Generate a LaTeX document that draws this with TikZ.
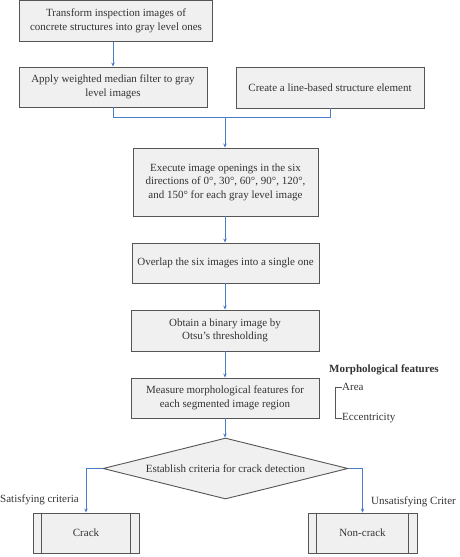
\documentclass[tikz,border=0pt]{standalone}
\usepackage{fontspec}
\setmainfont{Liberation Serif}
\usetikzlibrary{arrows.meta,shapes.geometric,calc}
\definecolor{boxfill}{HTML}{F0F0F0}
\definecolor{boxdraw}{HTML}{555555}
\definecolor{lineblue}{HTML}{4A7CC9}
\definecolor{txt}{HTML}{333333}
\tikzset{
  procbox/.style={draw=boxdraw, fill=boxfill, line width=0.9pt, rectangle, inner sep=0pt,
    align=center, text=txt, font=\fontsize{11}{13.5}\selectfont},
  decbox/.style={draw=boxdraw, fill=boxfill, line width=0.9pt, diamond, inner sep=0pt, aspect=4,
    align=center, text=txt, font=\fontsize{11}{13.5}\selectfont},
  flow/.style={draw=lineblue, line width=0.7pt, -{Stealth[length=4pt,width=3.5pt]}},
  link/.style={draw=lineblue, line width=0.7pt},
  lbl/.style={text=txt, font=\fontsize{11}{13.5}\selectfont, inner sep=0pt},
}
\begin{document}
\begin{tikzpicture}[x=1pt,y=-1pt]
\useasboundingbox (0,0) rectangle (459,557);
\node[procbox, minimum width=193pt, minimum height=41pt] (b1) at (116,21)
  {Transform inspection images of\\concrete structures into gray level ones};
\node[procbox, minimum width=188pt, minimum height=40pt] (b2) at (113,87)
  {Apply weighted median filter to gray\\level images};
\node[procbox, minimum width=188pt, minimum height=41pt] (b3) at (330,87.5)
  {Create a line-based structure element};
\node[procbox, minimum width=185pt, minimum height=68pt] (b4) at (225.5,182)
  {Execute image openings in the six\\directions of 0°, 30°, 60°, 90°, 120°,\\and 150° for each gray level image};
\node[procbox, minimum width=187pt, minimum height=40pt] (b5) at (225.5,263)
  {Overlap the six images into a single one};
\node[procbox, minimum width=188pt, minimum height=41pt] (b6) at (225,330.5)
  {Obtain a binary image by\\Otsu’s thresholding};
\node[procbox, minimum width=188pt, minimum height=40pt] (b7) at (225,398)
  {Measure morphological features for\\each segmented image region};
\node[decbox, minimum width=245pt, minimum height=61pt] (d) at (225.5,468.5)
  {Establish criteria for crack detection};
\node[procbox, minimum width=106pt, minimum height=40pt] (c1) at (86,533) {Crack};
\node[procbox, minimum width=109pt, minimum height=40pt] (c2) at (362.5,533) {Non-crack};
\draw[boxdraw, line width=0.9pt] ($(c1.north west)+(9,0)$) -- ($(c1.south west)+(9,0)$);
\draw[boxdraw, line width=0.9pt] ($(c1.north east)+(-9,0)$) -- ($(c1.south east)+(-9,0)$);
\draw[boxdraw, line width=0.9pt] ($(c2.north west)+(9,0)$) -- ($(c2.south west)+(9,0)$);
\draw[boxdraw, line width=0.9pt] ($(c2.north east)+(-9,0)$) -- ($(c2.south east)+(-9,0)$);
% connectors
\coordinate (j) at (225,117);
\draw[flow] (b1.south -| b2.north) -- (b2.north);
\draw[link] (b2.south) -- (b2.south |- j) -- (j);
\draw[link] (b3.south) -- (b3.south |- j) -- (j);
\draw[flow] (j) -- (j |- b4.north);
\draw[flow] (b4.south -| j) -- (b5.north -| j);
\draw[flow] (b5.south -| j) -- (b6.north -| j);
\draw[flow] (b6.south -| j) -- (b7.north -| j);
\draw[flow] (b7.south -| j) -- (d.north -| j);
\draw[flow] (d.west) -- (d.west -| c1.north) -- (c1.north);
\draw[flow] (d.east) -- (d.east -| c2.north) -- (c2.north);
% labels
\node[lbl, anchor=west] (s) at (0,500) {Satisfying criteria};
\node[lbl, anchor=west] (u) at (371,502) {Unsatisfying Criter};
\node[lbl, anchor=west, font=\fontsize{11}{13.5}\selectfont\bfseries] (mf) at (329,370) {Morphological features};
\node[lbl, anchor=west] (area) at (342,387) {Area};
\node[lbl, anchor=west] (ecc) at (342,418) {Eccentricity};
\draw[boxdraw, line width=0.8pt] (area.west) -- (335,387) -- (335,418) -- (ecc.west);
\end{tikzpicture}
\end{document}
